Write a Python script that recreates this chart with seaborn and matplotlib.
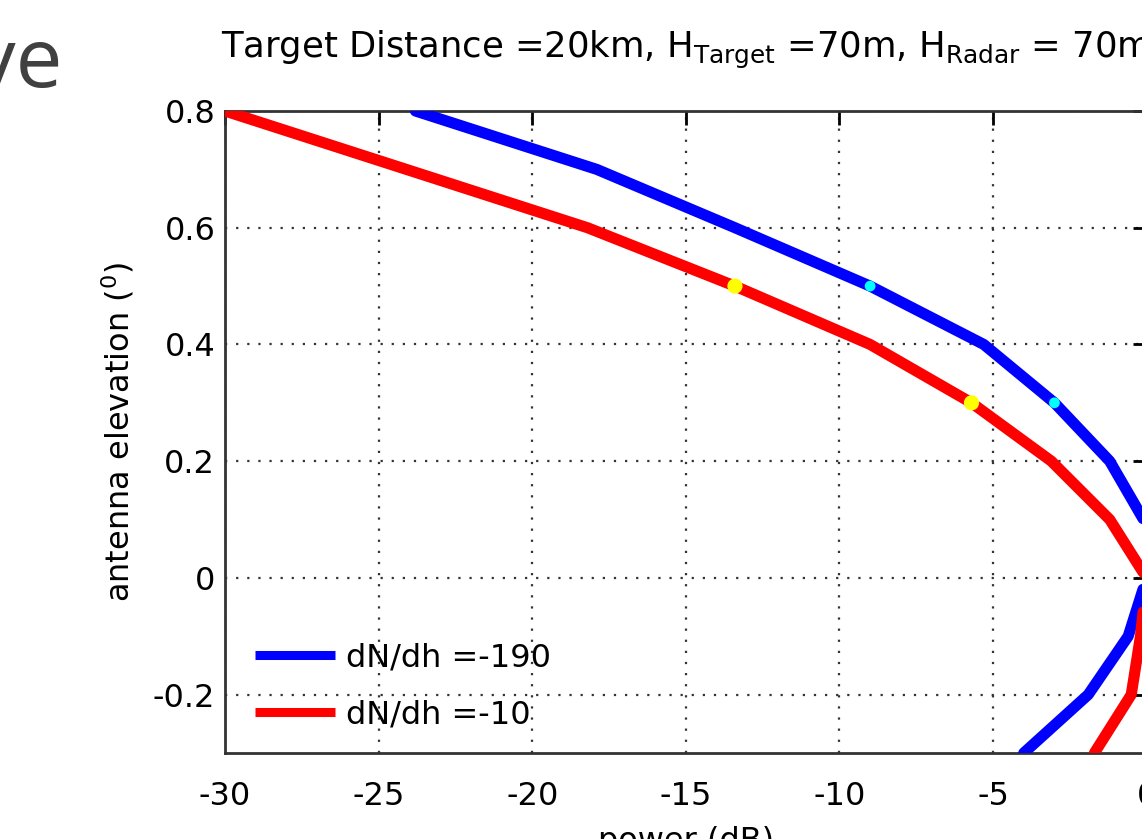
import numpy as np
import pandas as pd
import matplotlib
matplotlib.use("Agg")
import matplotlib.pyplot as plt
import seaborn as sns

# ---- data ----
elevation = [0.8, 0.7, 0.6, 0.5, 0.4, 0.3, 0.2, 0.1, 0.0, -0.1, -0.2, -0.3]
power_190 = [-23.8, -17.9, -13.4, -9.0, -5.3, -3.0, -1.2, -0.1, 0.0, -0.6, -1.9, -4.0]
power_10 = [-30.0, -24.1, -18.2, -13.4, -9.0, -5.7, -3.1, -1.2, 0.0, -0.2, -0.5, -1.7]
series_labels = ["dN/dh =-190", "dN/dh =-10"]
mark_elev = [0.5, 0.3]
mark_190 = [-9.0, -3.0]
mark_10 = [-13.4, -5.7]
xticks = [-30, -25, -20, -15, -10, -5, 0]
yticks = [-0.2, 0.0, 0.2, 0.4, 0.6, 0.8]
ytick_labels = ["-0.2", "0", "0.2", "0.4", "0.6", "0.8"]

sns.set_theme(style="white")
plt.rcParams["font.family"] = ["DejaVu Sans"]
plt.rcParams["mathtext.fontset"] = "dejavusans"
for k in ["text.color", "axes.labelcolor", "xtick.color", "ytick.color"]:
    plt.rcParams[k] = "black"

fig = plt.figure(figsize=(11.42, 8.39), dpi=100)
W, H = 1142, 839
ax_left, ax_top, ax_right, ax_bottom = 225, 111, 1146.6, 753
ax = fig.add_axes([ax_left / W, 1 - ax_bottom / H, (ax_right - ax_left) / W, (ax_bottom - ax_top) / H])

df = pd.DataFrame({
    "power": power_190 + power_10,
    "elev": elevation + elevation,
    "series": [series_labels[0]] * len(elevation) + [series_labels[1]] * len(elevation),
})
sns.lineplot(data=df, x="power", y="elev", hue="series", sort=False, estimator=None,
             palette={series_labels[0]: "#0000ff", series_labels[1]: "#ff0000"},
             linewidth=8, ax=ax, legend=True, zorder=3)
sns.scatterplot(x=mark_190, y=mark_elev, color="#00ffff", s=60, edgecolor="none", ax=ax, zorder=4)
sns.scatterplot(x=mark_10, y=mark_elev, color="#ffff00", s=120, edgecolor="none", ax=ax, zorder=4)

ax.set_xlim(-30, 0)
ax.set_ylim(-0.3, 0.8)
ax.set_xticks(xticks)
ax.set_xticklabels([str(t) for t in xticks])
ax.set_yticks(yticks)
ax.set_yticklabels(ytick_labels)
ax.grid(True, color="#333333", linestyle=(0, (1, 4)), linewidth=1.6)
ax.tick_params(direction="in", length=10, width=2, top=True, right=True,
               labelsize=23, colors="black")
ax.tick_params(axis="x", pad=20)
ax.tick_params(axis="y", pad=7)
for s in ax.spines.values():
    s.set_color("#333333")
    s.set_linewidth(2)
    s.set_visible(True)

ax.set_xlabel("power (dB)", fontsize=23, labelpad=10)
ax.set_ylabel(r"antenna elevation ($^0$)", fontsize=23, labelpad=12)
fig.text(686 / W, 1 - 58 / H,
         r"Target Distance =20km, H$_{\mathrm{Target}}$ =70m, H$_{\mathrm{Radar}}$ = 70m",
         ha="center", va="baseline", fontsize=25.5, color="black")

leg = ax.legend(loc="lower left", frameon=False, fontsize=23, handlelength=2.5,
                handletextpad=0.34, borderaxespad=0.3, labelspacing=0.83,
                bbox_to_anchor=(8 / 921.6, 0.0))
for line in leg.get_lines():
    line.set_linewidth(6.5)
    line.set_solid_capstyle("butt")

fig.text(62 / W, 1 - 87 / H, "ve", ha="right", va="baseline", fontsize=60,
         color="#404040", family=["Open Sans", "DejaVu Sans"])

fig.savefig("out.png", dpi=100)
